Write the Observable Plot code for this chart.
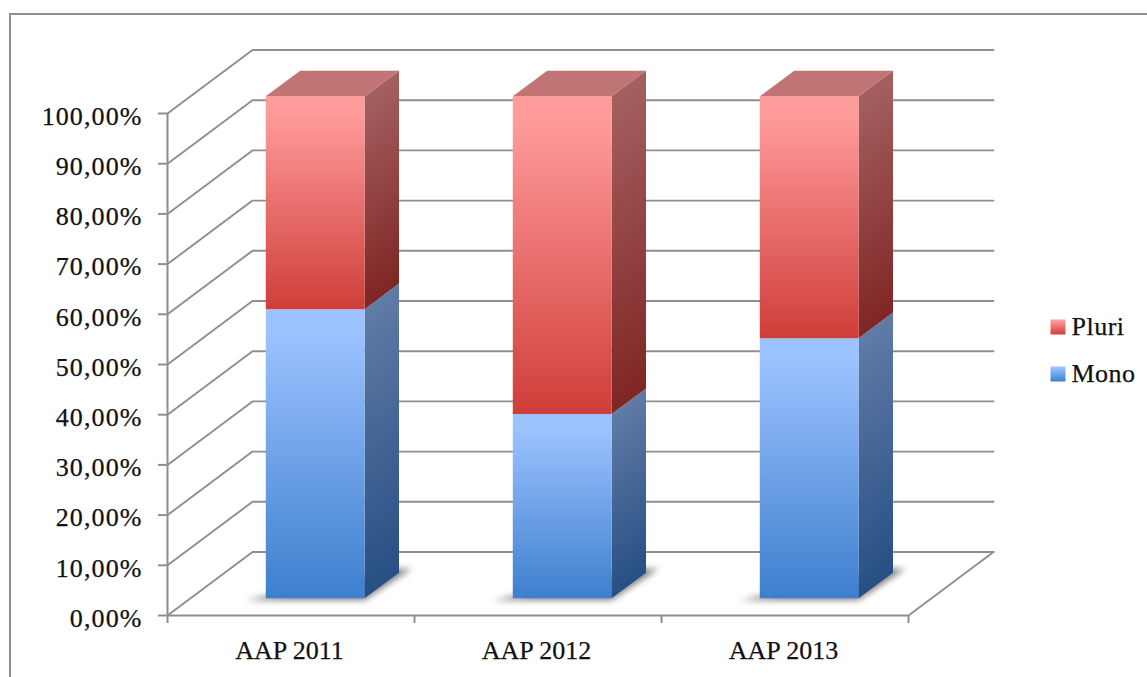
<!DOCTYPE html>
<html>
<head>
<meta charset="utf-8">
<script src="https://cdn.jsdelivr.net/npm/d3@7"></script>
<script src="https://cdn.jsdelivr.net/npm/@observablehq/plot@0.6"></script>
<style>
  html, body { margin: 0; padding: 0; background: #fff; }
  svg { display: block; }
  svg text { stroke: #111; stroke-width: 0.25px; }
  svg g[aria-label="y-axis tick label"] text { letter-spacing: 1.1px; }
  svg g.legend-label text { letter-spacing: 0.5px; }
</style>
</head>
<body>
<div id="chart"></div>
<script>
// Share of each AAP call, stacked to 100 %
const categories = ["AAP 2011", "AAP 2012", "AAP 2013"];
const mono = [57.6, 36.7, 51.8];
const pluri = [42.4, 63.3, 48.2];
const yTicks = [0, 10, 20, 30, 40, 50, 60, 70, 80, 90, 100];
const legendLabels = ["Pluri", "Mono"];

const gridColor = "#8e8e8e";
const fontFamily = "'Liberation Serif', serif";
const fontSize = 26;

// Oblique projection: depth 0 is the front plane, depth 1 is the back wall
const pxPerCategory = 741 / 3;
const pxPerPercent = 502 / 100;
const depthX = 85 / pxPerCategory;
const depthY = 63.5 / pxPerPercent;
const project = (c, v, d) => ({x: c + d * depthX, y: v + d * depthY});

// Bar footprint within a category slot and along the depth axis
const barLeft = 0.305, barRight = 0.705;
const barFront = 0.27, barBack = 0.675;

const polygon = (points, fill, extra = {}) =>
  Plot.line(points, {x: "x", y: "y", fill, stroke: "none", ...extra});

const gridLines = yTicks.map((v) =>
  Plot.line([project(0, v, 0), project(0, v, 1), project(3, v, 1)],
    {x: "x", y: "y", stroke: gridColor, strokeWidth: 1.9})
);
const floorEdge = Plot.line([project(3, 0, 0), project(3, 0, 1)],
  {x: "x", y: "y", stroke: gridColor, strokeWidth: 1.9});

const shadows = categories.map((_, i) => {
  const l = i + barLeft, r = i + barRight;
  return polygon([
    project(l - 0.08, -0.4, barFront),
    project(r, -0.4, barFront),
    project(r + 0.03, 0, barBack + 0.06),
    project(r - 0.04, 0, barBack + 0.06)
  ], "#666", {imageFilter: "blur(3px)", fillOpacity: 0.8});
});

// Gradient on a side face runs along the shear of the face
function sideGradientVector(height) {
  const k = depthY * (barBack - barFront) / (height + depthY * (barBack - barFront));
  const t = (1 - k) / (1 + k * k);
  return {x1: 0, y1: k, x2: t * k, y2: k + t};
}

const series = [
  {key: "mono", values: mono, base: () => 0,
   front: ["#9cc2ff", "#9cc2ff", "#3d7fce"], side: ["#607ba6", "#274f84"]},
  {key: "pluri", values: pluri, base: (i) => mono[i],
   front: ["#ff9b9b", "#ff9b9b", "#cf3e39"], side: ["#a46060", "#7f2624"]}
];

function defsMark() {
  const defs = d3.create("svg:defs");
  const addStops = (g, stops) => stops.forEach(([o, c]) =>
    g.append("stop").attr("offset", o).attr("stop-color", c));
  for (const s of series) {
    const front = defs.append("linearGradient").attr("id", `${s.key}-front`)
      .attr("x1", 0).attr("y1", 0).attr("x2", 0).attr("y2", 1);
    addStops(front, [[0, s.front[0]], [0.08, s.front[1]], [1, s.front[2]]]);
    s.values.forEach((v, i) => {
      const vec = sideGradientVector(v);
      const side = defs.append("linearGradient").attr("id", `${s.key}-side-${i}`)
        .attr("x1", vec.x1).attr("y1", vec.y1).attr("x2", vec.x2).attr("y2", vec.y2);
      addStops(side, [[0, s.side[0]], [1, s.side[1]]]);
    });
  }
  return defs.node();
}

const barMarks = series.flatMap((s) =>
  s.values.flatMap((v, i) => {
    const l = i + barLeft, r = i + barRight;
    const lo = s.base(i), hi = lo + v;
    const faces = [
      polygon([project(r, lo, barFront), project(r, lo, barBack), project(r, hi, barBack), project(r, hi, barFront)],
        `url(#${s.key}-side-${i})`),
      polygon([project(l, lo, barFront), project(r, lo, barFront), project(r, hi, barFront), project(l, hi, barFront)],
        `url(#${s.key}-front)`)
    ];
    if (s.key === "pluri") {
      faces.push(polygon([project(l, hi, barFront), project(r, hi, barFront), project(r, hi, barBack), project(l, hi, barBack)],
        "#c07474"));
    }
    return faces;
  })
);

const chart = Plot.plot({
  width: 1147,
  height: 677,
  marginLeft: 167,
  marginRight: 239,
  marginTop: 113,
  marginBottom: 62,
  style: {background: "#fff", fontFamily, fontSize: `${fontSize}px`, color: "#111"},
  x: {domain: [0, 3], label: null},
  y: {domain: [0, 100], label: null},
  marks: [
    defsMark,
    Plot.frame({stroke: gridColor, strokeWidth: 2, insetLeft: -157.5, insetTop: -99.5, insetRight: -245, insetBottom: -66}),
    ...gridLines,
    floorEdge,
    Plot.ruleX([0], {stroke: gridColor, strokeWidth: 2}),
    Plot.ruleY([0], {stroke: gridColor, strokeWidth: 2}),
    Plot.axisY({ticks: yTicks, tickSize: 9, fill: "none", stroke: gridColor, strokeWidth: 2, label: null}),
    Plot.axisY({ticks: yTicks, tickSize: 0, tickPadding: 25, dy: 3, fontSize, fontFamily,
      tickFormat: (d) => `${d.toFixed(2).replace(".", ",")}%`, label: null}),
    Plot.axisX({ticks: [0, 1, 2, 3], tickSize: 8, fill: "none", stroke: gridColor, strokeWidth: 2, label: null}),
    ...shadows,
    ...barMarks,
    Plot.text(categories, {x: (d, i) => i + 0.5, y: () => 0, text: (d) => d, dx: -1.5, dy: 35, fontSize, fontFamily}),
    // Legend sits right of the plot frame
    ...legendLabels.flatMap((label, i) => {
      const key = label.toLowerCase();
      const dy = 213.5 + i * 47;
      return [
        Plot.dot([label], {frameAnchor: "top-right", dx: 149.5, dy, symbol: "square", r: 8.46, fill: `url(#${key}-front)`}),
        Plot.text([label], {frameAnchor: "top-right", dx: 163, dy, text: (d) => d, textAnchor: "start", lineAnchor: "middle", fontSize, fontFamily, className: "legend-label"})
      ];
    })
  ]
});
document.getElementById("chart").append(chart);
</script>
</body>
</html>
